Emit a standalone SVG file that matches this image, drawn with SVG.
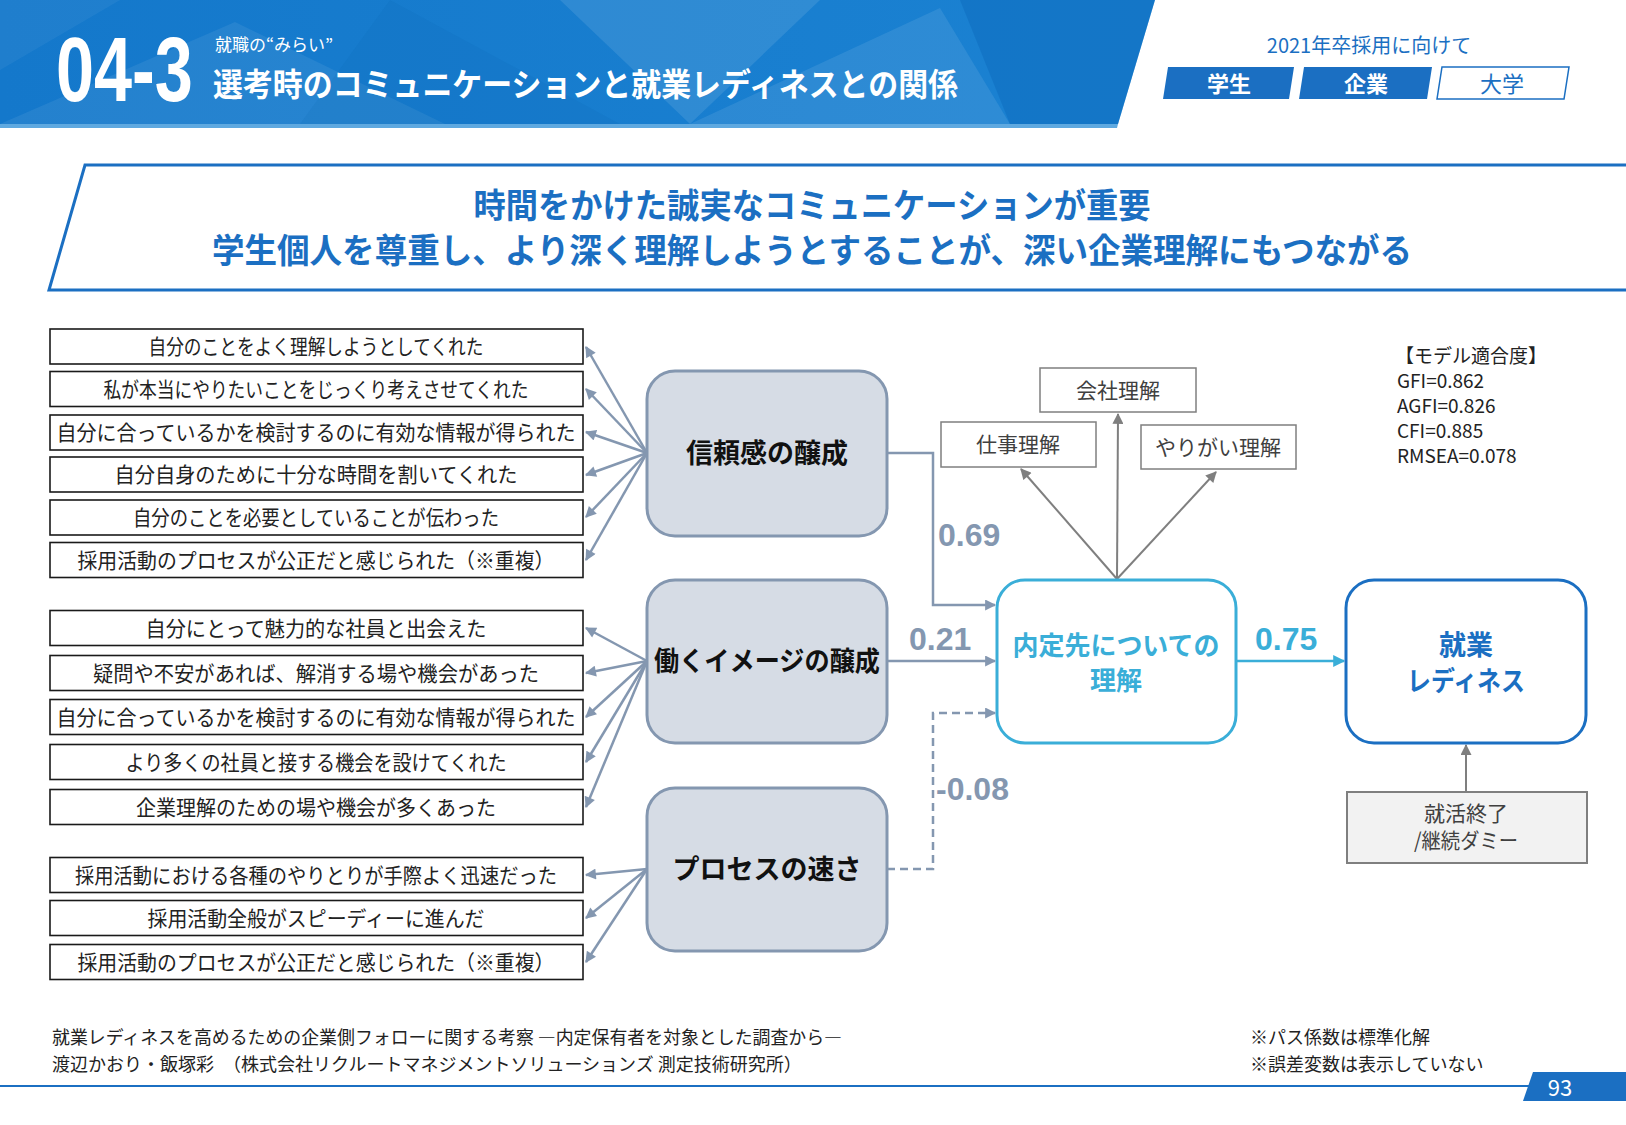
<svg xmlns="http://www.w3.org/2000/svg" width="1626" height="1125" viewBox="0 0 1626 1125">
<defs>
<style>
.jp{font-family:"Noto Sans CJK JP","Noto Sans",sans-serif}
.box{fill:#fff;stroke:#1a1a1a;stroke-width:1.6}
.bt{font-family:"Noto Sans CJK JP",sans-serif;font-size:21px;fill:#222;text-anchor:middle}
.lat{fill:#d6dce5;stroke:#8497b0;stroke-width:3}
.lt{font-family:"Noto Sans CJK JP",sans-serif;font-size:27px;font-weight:700;fill:#111;text-anchor:middle}
.ind{fill:#fff;stroke:#7f7f7f;stroke-width:1.5}
.it{font-family:"Noto Sans CJK JP",sans-serif;font-size:21px;fill:#404040;text-anchor:middle}
.num{font-family:"Liberation Sans",Arial,sans-serif;font-size:32px;font-weight:700}
.fit{font-family:"Noto Sans CJK JP",sans-serif;font-size:19px;fill:#222}
.foot{font-family:"Noto Sans CJK JP",sans-serif;font-size:18px;fill:#222}
.ga{stroke:#8497b0;stroke-width:2.5;fill:none}
.gg{stroke:#7f7f7f;stroke-width:2;fill:none}
</style>
<linearGradient id="hdr" x1="0" y1="0" x2="1" y2="0">
<stop offset="0" stop-color="#1478cb"/>
<stop offset="1" stop-color="#1b82d2"/>
</linearGradient>
<marker id="ab" viewBox="0 0 10 10" refX="9" refY="5" markerWidth="12" markerHeight="11" markerUnits="userSpaceOnUse" orient="auto"><path d="M0,0 L10,5 L0,10 z" fill="#8497b0"/></marker>
<marker id="ac" viewBox="0 0 10 10" refX="9" refY="5" markerWidth="13" markerHeight="12" markerUnits="userSpaceOnUse" orient="auto"><path d="M0,0 L10,5 L0,10 z" fill="#3aaed8"/></marker>
<marker id="ag" viewBox="0 0 10 10" refX="9" refY="5" markerWidth="12" markerHeight="11" markerUnits="userSpaceOnUse" orient="auto"><path d="M0,0 L10,5 L0,10 z" fill="#7f7f7f"/></marker>
</defs>
<rect width="1626" height="1125" fill="#fff"/>

<g id="header">
<polygon points="0,0 1155,0 1118,124 0,124" fill="url(#hdr)"/>
<polygon points="0,124 235,22 445,124" fill="#fff" fill-opacity="0.07"/>
<polygon points="300,124 390,0 620,124" fill="#0a5fb0" fill-opacity="0.12"/>
<polygon points="560,0 820,0 690,124" fill="#fff" fill-opacity="0.1"/>
<polygon points="690,124 940,8 1010,124" fill="#fff" fill-opacity="0.09"/>
<polygon points="960,0 1155,0 1118,124 1010,124" fill="#0a60b5" fill-opacity="0.35"/>
<polygon points="0,0 120,0 0,70" fill="#fff" fill-opacity="0.05"/>
<polygon points="0,124 1118,124 1117,128 0,128" fill="#5fa9e0"/>
<text transform="matrix(0.76 0 0 1 56 101)" x="0" y="0" font-family="'Liberation Sans',Arial,sans-serif" font-size="90" font-weight="700" fill="#fff">04-3</text>
<text class="jp" x="215" y="51" font-size="17" fill="#fff">就職の“みらい”</text>
<text class="jp" x="213" y="96" font-size="32" font-weight="700" fill="#fff" textLength="745" lengthAdjust="spacingAndGlyphs">選考時のコミュニケーションと就業レディネスとの関係</text>
<text class="jp" x="1369" y="53" font-size="20" fill="#1b6fc2" text-anchor="middle">2021年卒採用に向けて</text>
<polygon points="1168,67 1294,67 1289,99 1163,99" fill="#1b6fc2"/>
<polygon points="1304,67 1432,67 1427,99 1299,99" fill="#1b6fc2"/>
<polygon points="1442,67 1569,67 1564,99 1437,99" fill="#fff" stroke="#1b6fc2" stroke-width="1.5"/>
<text class="jp" x="1229" y="92" font-size="22" font-weight="700" fill="#fff" text-anchor="middle">学生</text>
<text class="jp" x="1366" y="92" font-size="22" font-weight="700" fill="#fff" text-anchor="middle">企業</text>
<text class="jp" x="1502" y="92" font-size="22" fill="#1b6fc2" text-anchor="middle">大学</text>
</g>

<g id="banner">
<path d="M1626,165 H85 L49,290 H1626" fill="none" stroke="#1b6fc2" stroke-width="3"/>
<text class="jp" x="812" y="218" font-size="34" font-weight="700" fill="#1b6fc2" text-anchor="middle" textLength="677" lengthAdjust="spacingAndGlyphs">時間をかけた誠実なコミュニケーションが重要</text>
<text class="jp" x="812" y="263" font-size="34" font-weight="700" fill="#1b6fc2" text-anchor="middle" textLength="1200" lengthAdjust="spacingAndGlyphs">学生個人を尊重し、より深く理解しようとすることが、深い企業理解にもつながる</text>
</g>

<g id="connectors">
<line class="ga" x1="647" y1="453" x2="586" y2="347" marker-end="url(#ab)"/>
<line class="ga" x1="647" y1="453" x2="586" y2="389" marker-end="url(#ab)"/>
<line class="ga" x1="647" y1="453" x2="586" y2="432" marker-end="url(#ab)"/>
<line class="ga" x1="647" y1="453" x2="586" y2="475" marker-end="url(#ab)"/>
<line class="ga" x1="647" y1="453" x2="586" y2="517" marker-end="url(#ab)"/>
<line class="ga" x1="647" y1="453" x2="586" y2="560" marker-end="url(#ab)"/>
<line class="ga" x1="647" y1="661" x2="586" y2="628" marker-end="url(#ab)"/>
<line class="ga" x1="647" y1="661" x2="586" y2="673" marker-end="url(#ab)"/>
<line class="ga" x1="647" y1="661" x2="586" y2="717" marker-end="url(#ab)"/>
<line class="ga" x1="647" y1="661" x2="586" y2="762" marker-end="url(#ab)"/>
<line class="ga" x1="647" y1="661" x2="586" y2="807" marker-end="url(#ab)"/>
<line class="ga" x1="647" y1="869" x2="586" y2="875" marker-end="url(#ab)"/>
<line class="ga" x1="647" y1="869" x2="586" y2="918" marker-end="url(#ab)"/>
<line class="ga" x1="647" y1="869" x2="586" y2="962" marker-end="url(#ab)"/>
<path class="ga" d="M887,453 H933 V605 H995" marker-end="url(#ab)"/>
<path class="ga" d="M887,661 H995" marker-end="url(#ab)"/>
<path class="ga" d="M887,869 H933 V713 H995" stroke-dasharray="8,5" marker-end="url(#ab)"/>
<path d="M1237,661 H1344" stroke="#3aaed8" stroke-width="2.5" fill="none" marker-end="url(#ac)"/>
<line class="gg" x1="1117" y1="579" x2="1118" y2="414" marker-end="url(#ag)"/>
<line class="gg" x1="1117" y1="579" x2="1021" y2="469" marker-end="url(#ag)"/>
<line class="gg" x1="1117" y1="579" x2="1216" y2="472" marker-end="url(#ag)"/>
<line class="gg" x1="1466" y1="792" x2="1466" y2="745" marker-end="url(#ag)"/>
<text class="num" x="938" y="546" fill="#8497b0">0.69</text>
<text class="num" x="909" y="650" fill="#8497b0">0.21</text>
<text class="num" x="936" y="800" fill="#8497b0">-0.08</text>
<text class="num" x="1255" y="650" fill="#3aaed8">0.75</text>
</g>

<g id="items-trust">
<g id="t1"><rect class="box" x="50" y="329" width="533" height="35"/><text class="bt" x="316" y="354" textLength="335" lengthAdjust="spacingAndGlyphs">自分のことをよく理解しようとしてくれた</text></g>
<g id="t2"><rect class="box" x="50" y="371.5" width="533" height="35"/><text class="bt" x="316" y="396.5" textLength="425" lengthAdjust="spacingAndGlyphs">私が本当にやりたいことをじっくり考えさせてくれた</text></g>
<g id="t3"><rect class="box" x="50" y="415" width="533" height="35"/><text class="bt" x="316" y="440" textLength="519" lengthAdjust="spacingAndGlyphs">自分に合っているかを検討するのに有効な情報が得られた</text></g>
<g id="t4"><rect class="box" x="50" y="457" width="533" height="35"/><text class="bt" x="316" y="482" textLength="403" lengthAdjust="spacingAndGlyphs">自分自身のために十分な時間を割いてくれた</text></g>
<g id="t5"><rect class="box" x="50" y="500" width="533" height="35"/><text class="bt" x="316" y="525" textLength="366" lengthAdjust="spacingAndGlyphs">自分のことを必要としていることが伝わった</text></g>
<g id="t6"><rect class="box" x="50" y="542.5" width="533" height="35"/><text class="bt" x="316" y="567.5" textLength="477" lengthAdjust="spacingAndGlyphs">採用活動のプロセスが公正だと感じられた（※重複）</text></g>
</g>

<g id="items-image">
<g id="w1"><rect class="box" x="50" y="610.5" width="533" height="35"/><text class="bt" x="316" y="635.5" textLength="341" lengthAdjust="spacingAndGlyphs">自分にとって魅力的な社員と出会えた</text></g>
<g id="w2"><rect class="box" x="50" y="655.5" width="533" height="35"/><text class="bt" x="316" y="680.5" textLength="446" lengthAdjust="spacingAndGlyphs">疑問や不安があれば、解消する場や機会があった</text></g>
<g id="w3"><rect class="box" x="50" y="699.5" width="533" height="35"/><text class="bt" x="316" y="724.5" textLength="519" lengthAdjust="spacingAndGlyphs">自分に合っているかを検討するのに有効な情報が得られた</text></g>
<g id="w4"><rect class="box" x="50" y="744.5" width="533" height="35"/><text class="bt" x="316" y="769.5" textLength="381" lengthAdjust="spacingAndGlyphs">より多くの社員と接する機会を設けてくれた</text></g>
<g id="w5"><rect class="box" x="50" y="789.5" width="533" height="35"/><text class="bt" x="316" y="814.5" textLength="360" lengthAdjust="spacingAndGlyphs">企業理解のための場や機会が多くあった</text></g>
</g>

<g id="items-speed">
<g id="s1"><rect class="box" x="50" y="857.5" width="533" height="35"/><text class="bt" x="316" y="882.5" textLength="482" lengthAdjust="spacingAndGlyphs">採用活動における各種のやりとりが手際よく迅速だった</text></g>
<g id="s2"><rect class="box" x="50" y="900.5" width="533" height="35"/><text class="bt" x="316" y="925.5" textLength="337" lengthAdjust="spacingAndGlyphs">採用活動全般がスピーディーに進んだ</text></g>
<g id="s3"><rect class="box" x="50" y="944.5" width="533" height="35"/><text class="bt" x="316" y="969.5" textLength="477" lengthAdjust="spacingAndGlyphs">採用活動のプロセスが公正だと感じられた（※重複）</text></g>
</g>

<g id="latent-trust"><rect class="lat" x="647" y="371" width="240" height="165" rx="28"/><text class="lt" x="767" y="463">信頼感の醸成</text></g>
<g id="latent-image"><rect class="lat" x="647" y="580" width="240" height="163" rx="28"/><text class="lt" x="767" y="671" textLength="226" lengthAdjust="spacingAndGlyphs">働くイメージの醸成</text></g>
<g id="latent-speed"><rect class="lat" x="647" y="788" width="240" height="163" rx="28"/><text class="lt" x="767" y="879">プロセスの速さ</text></g>

<g id="understanding"><rect x="997" y="580" width="239" height="163" rx="28" fill="#fff" stroke="#3aaed8" stroke-width="3"/>
<text class="jp" x="1116" y="655" font-size="26" font-weight="700" fill="#3aaed8" text-anchor="middle" textLength="207" lengthAdjust="spacingAndGlyphs">内定先についての</text>
<text class="jp" x="1116" y="690" font-size="26" font-weight="700" fill="#3aaed8" text-anchor="middle">理解</text></g>

<g id="readiness"><rect x="1346" y="580" width="240" height="163" rx="28" fill="#fff" stroke="#1b6fc2" stroke-width="3"/>
<text class="jp" x="1466" y="655" font-size="27" font-weight="700" fill="#1b6fc2" text-anchor="middle">就業</text>
<text class="jp" x="1466" y="691" font-size="27" font-weight="700" fill="#1b6fc2" text-anchor="middle" textLength="118" lengthAdjust="spacingAndGlyphs">レディネス</text></g>

<g id="dummy"><rect x="1347" y="792" width="240" height="71" fill="#f2f2f2" stroke="#7f7f7f" stroke-width="2"/>
<text class="it" x="1466" y="821" fill="#222" font-size="20">就活終了</text>
<text class="it" x="1466" y="848" fill="#222" font-size="20" textLength="104" lengthAdjust="spacingAndGlyphs">/継続ダミー</text></g>

<g id="ind-company"><rect class="ind" x="1040" y="368" width="156" height="44"/><text class="it" x="1118" y="398">会社理解</text></g>
<g id="ind-job"><rect class="ind" x="941" y="422" width="155" height="45"/><text class="it" x="1018" y="452">仕事理解</text></g>
<g id="ind-worth"><rect class="ind" x="1141" y="425" width="155" height="44"/><text class="it" x="1218" y="455">やりがい理解</text></g>

<g id="fit">
<text class="fit" x="1395" y="363">【モデル適合度】</text>
<text class="fit" x="1397" y="388">GFI=0.862</text>
<text class="fit" x="1397" y="413">AGFI=0.826</text>
<text class="fit" x="1397" y="438">CFI=0.885</text>
<text class="fit" x="1397" y="463">RMSEA=0.078</text>
</g>

<g id="footer">
<text class="foot" x="52" y="1044" textLength="790" lengthAdjust="spacingAndGlyphs">就業レディネスを高めるための企業側フォローに関する考察 ―内定保有者を対象とした調査から―</text>
<text class="foot" x="52" y="1071">渡辺かおり・飯塚彩　（株式会社リクルートマネジメントソリューションズ 測定技術研究所）</text>
<text class="foot" x="1250" y="1044">※パス係数は標準化解</text>
<text class="foot" x="1250" y="1071">※誤差変数は表示していない</text>
<line x1="0" y1="1086" x2="1530" y2="1086" stroke="#1b6fc2" stroke-width="2"/>
<polygon points="1533,1072 1626,1072 1626,1101 1523,1101" fill="#1b6fc2"/>
<text class="jp" x="1560" y="1096" font-size="22" fill="#fff" text-anchor="middle">93</text>
</g>
</svg>
